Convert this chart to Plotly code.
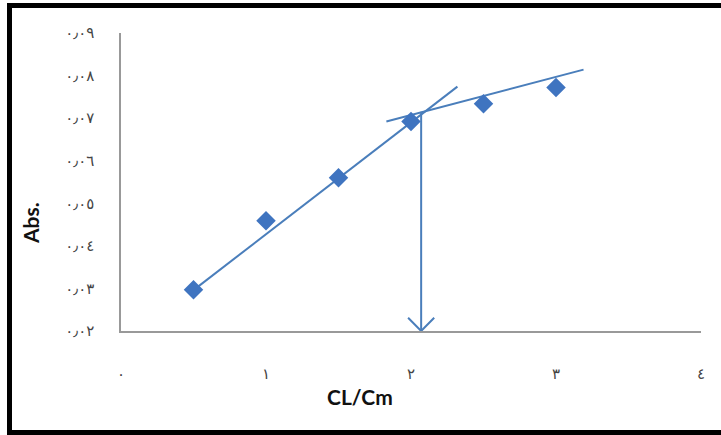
import plotly.graph_objects as go

# ---- data ----
x_vals = [0.5, 1.0, 1.5, 2.0, 2.5, 3.0]
abs_vals = [0.0297, 0.0459, 0.0560, 0.0692, 0.0734, 0.0772]

line1_x = [0.5, 2.32]
line1_y = [0.0296, 0.0774]
line2_x = [1.83, 3.19]
line2_y = [0.0692, 0.0814]
arrow_x = [2.07, 2.07]
arrow_y = [0.0715, 0.0200]

x_ticks = [0, 1, 2, 3, 4]
x_ticktext = ["٠", "١", "٢", "٣", "٤"]
y_ticks = [0.02, 0.03, 0.04, 0.05, 0.06, 0.07, 0.08, 0.09]
y_ticktext = ["٠٫٠٢", "٠٫٠٣", "٠٫٠٤", "٠٫٠٥", "٠٫٠٦", "٠٫٠٧", "٠٫٠٨", "٠٫٠٩"]

blue = "#4A7EBB"
marker_blue = "#3F74C0"

# plot-area geometry (pixels)
W, H = 721, 435
L, R, T, B = 121, 20, 33, 104
pw, ph = W - L - R, H - T - B

def px_x(p):
    return (p - L) / pw

def px_y(p):
    return (H - B - p) / ph

fig = go.Figure()

fig.add_trace(go.Scatter(x=line1_x, y=line1_y, mode="lines",
                         line=dict(color=blue, width=2), hoverinfo="skip"))
fig.add_trace(go.Scatter(x=line2_x, y=line2_y, mode="lines",
                         line=dict(color=blue, width=2), hoverinfo="skip"))
fig.add_trace(go.Scatter(x=arrow_x, y=arrow_y, mode="lines",
                         line=dict(color=blue, width=2), hoverinfo="skip"))

# open V arrowhead at the arrow tip
head_dx, head_dy = 0.09, 0.0031
tip_x, tip_y = arrow_x[1], arrow_y[1]
fig.add_trace(go.Scatter(
    x=[tip_x - head_dx, tip_x, tip_x + head_dx],
    y=[tip_y + head_dy, tip_y, tip_y + head_dy],
    mode="lines", line=dict(color=blue, width=2), hoverinfo="skip"))

fig.add_trace(go.Scatter(x=x_vals, y=abs_vals, mode="markers",
                         marker=dict(symbol="diamond", size=15, color=marker_blue,
                                     line=dict(width=0))))

fig.update_layout(
    width=W, height=H,
    margin=dict(l=L, r=R, t=T, b=B),
    paper_bgcolor="white", plot_bgcolor="white",
    showlegend=False,
    font=dict(family="DejaVu Sans", color="#444"),
    xaxis=dict(range=[0, 4], tickvals=x_ticks, ticktext=x_ticktext,
               showgrid=False, zeroline=False, showline=True,
               linecolor="#999", linewidth=1.5, ticks="",
               tickfont=dict(size=15, color="#444", family="DejaVu Sans"),
               ticklabelstandoff=28),
    yaxis=dict(range=[0.02, 0.09], tickvals=y_ticks, ticktext=y_ticktext,
               showgrid=False, zeroline=False, showline=True,
               linecolor="#999", linewidth=1.5, ticks="",
               tickfont=dict(size=15, color="#444", family="DejaVu Sans"),
               ticklabelstandoff=22),
    annotations=[
        dict(text="<b>Abs.</b>", xref="paper", yref="paper",
             x=px_x(30), y=px_y(223), showarrow=False, textangle=-90,
             xanchor="center", yanchor="middle",
             font=dict(family="Lato", size=21, color="#111")),
        dict(text="<b>CL/Cm</b>", xref="paper", yref="paper",
             x=px_x(360), y=px_y(396), showarrow=False,
             xanchor="center", yanchor="middle",
             font=dict(family="Lato", size=21, color="#111")),
    ],
    shapes=[
        dict(type="rect", xref="paper", yref="paper",
             x0=px_x(9.5), x1=px_x(760), y0=px_y(432.5), y1=px_y(5.5),
             line=dict(color="black", width=5), fillcolor="rgba(0,0,0,0)",
             layer="above"),
    ],
)

fig.write_html("out.html")
